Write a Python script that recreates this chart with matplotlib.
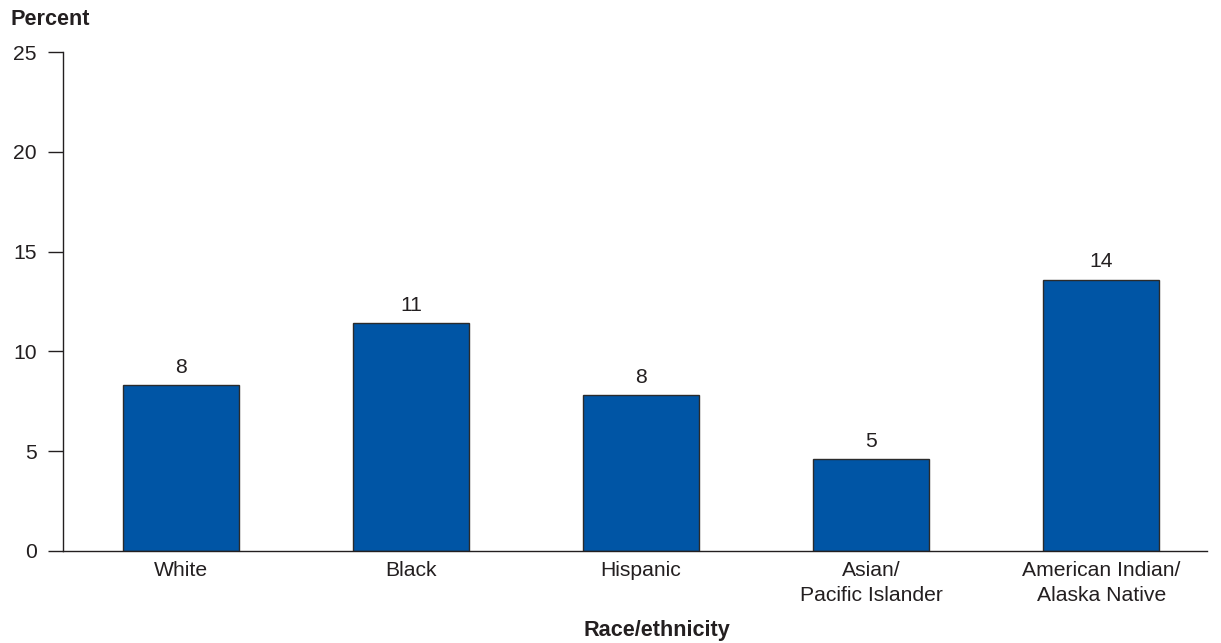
import matplotlib
matplotlib.use("Agg")
import matplotlib.pyplot as plt

categories = ["White", "Black", "Hispanic", "Asian/\nPacific Islander",
              "American Indian/\nAlaska Native"]
values = [8.3, 11.4, 7.8, 4.6, 13.6]
value_labels = ["8", "11", "8", "5", "14"]
y_ticks = [0, 5, 10, 15, 20, 25]

plt.rcParams["font.family"] = ["Liberation Sans", "DejaVu Sans"]
FS = 15.2
FS_BOLD = 15.6
TEXT = "#231f20"

fig = plt.figure(figsize=(12.21, 6.43), dpi=100)
ax = fig.add_axes([63 / 1221, 1 - 551 / 643, (1207 - 63) / 1221, (551 - 52) / 643])

x = list(range(len(categories)))
bars = ax.bar(x, values, width=0.505, color="#0055a5", edgecolor="#2b2b2b",
              linewidth=1.0, zorder=2)

for xi, v, lab in zip(x, values, value_labels):
    ax.annotate(lab, (xi, v), xytext=(0, 6), textcoords="offset points",
                ha="center", va="bottom", fontsize=FS, color=TEXT)

ax.set_xlim(-0.513, 4.46)
ax.set_ylim(0, 25)
ax.set_yticks(y_ticks)
ax.set_yticklabels([str(t) for t in y_ticks], fontsize=FS, color=TEXT)
ax.set_xticks(x)
ax.set_xticklabels(categories, fontsize=FS, color=TEXT, linespacing=1.4)

ax.tick_params(axis="y", direction="out", length=11, width=1.0, pad=8,
               color=TEXT)
ax.tick_params(axis="x", length=0, pad=7)

for side in ("top", "right"):
    ax.spines[side].set_visible(False)
for side in ("left", "bottom"):
    ax.spines[side].set_color(TEXT)
    ax.spines[side].set_linewidth(1.0)

fig.text(11 / 1221, 1 - 25 / 643, "Percent", fontsize=FS_BOLD, fontweight="bold",
         color=TEXT, ha="left", va="baseline")
fig.text(657 / 1221, 1 - 636 / 643, "Race/ethnicity", fontsize=FS_BOLD,
         fontweight="bold", color=TEXT, ha="center", va="baseline")

fig.savefig("out.png", dpi=100, facecolor="white")
